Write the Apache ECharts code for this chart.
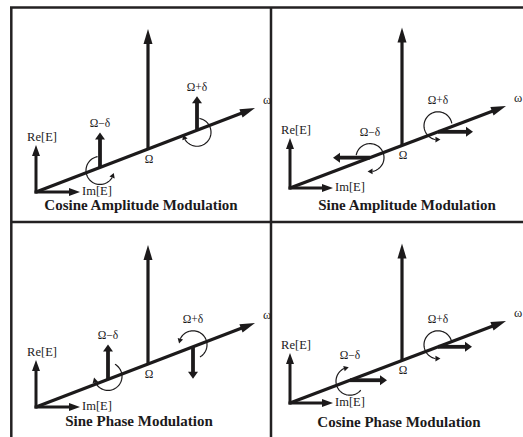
<!DOCTYPE html>
<html><head><meta charset="utf-8">
<script src="https://cdn.jsdelivr.net/npm/echarts@6/dist/echarts.min.js"></script>
<style>html,body{margin:0;padding:0;background:#fff}#c{width:523px;height:437px}</style>
</head><body><div id="c"></div><script>
// ---- data (in panel units) ----
const panelTitles = ['Cosine Amplitude Modulation','Sine Amplitude Modulation','Sine Phase Modulation','Cosine Phase Modulation'];
const freqLabels = ['Ω−δ','Ω','Ω+δ'];
const axisNames = ['Re[E]','Im[E]','ω'];
// position of each spectral line along the ω axis (distance from origin)
const lineOffsets = [[64,112,161],[80,112,148],[72,112,157],[60,112,148]];
// real (vertical) part of each phasor: lower sideband, carrier, upper sideband
const reParts = [[35,120,34],[0,118,0],[35,119,-32],[0,117,0]];
// imaginary (horizontal) part of each phasor
const imParts = [[0,0,0],[-37,0,35],[0,0,0],[37,0,34]];
// rotation sense of lower / upper sideband (+1 counter-clockwise, -1 clockwise)
const rotation = [[1,-1],[-1,1],[-1,1],[-1,1]];
const arcStart = [[100,80],[170,10],[60,-60],[-40,10]];
const arcSweep = [[250,250],[270,270],[235,235],[225,270]];
const arcLift = [[-3,-2],[0,6],[3,2],[-1,2]];
// axes geometry per panel
const originX = [25,19,25,19];
const originY = [30,34,30,34];
const omegaLen = [219,216,219,216];
const omegaRise = [84,82,84,82];
const reAxisLen = [47,50,47,50];
const imAxisLen = [44,43,44,43];

// ---- layout & style ----
const panelBoxes = [[11,9,260,213],[271,9,252,213],[11,222,260,215],[271,222,252,215]];
const titlePos = [[130,17],[136,17],[128,16],[128,15]];
const INK = '#1c1a1b';
const SERIF = '"Liberation Serif","Times New Roman",serif';
const ARC_R = 14;
const arrowStyles = [
  {lw:3.2, hl:15, hw:9, cap:'butt'},
  {lw:3, hl:11, hw:8, cap:'square'},
  {lw:3.2, hl:15, hw:9, cap:'butt'},
  {lw:3.8, hl:7, hw:10, cap:'butt'}
];

function arrowEl(p0, p1, st){
  const dx=p1[0]-p0[0], dy=p1[1]-p0[1];
  const L=Math.hypot(dx,dy); const ux=dx/L, uy=dy/L; const nx=-uy, ny=ux;
  const bx=p1[0]-ux*st.hl, by=p1[1]-uy*st.hl;
  return {type:'group', children:[
    {type:'line', shape:{x1:p0[0],y1:p0[1],x2:bx+ux,y2:by+uy}, style:{stroke:INK,lineWidth:st.lw,lineCap:st.cap}},
    {type:'polygon', shape:{points:[[p1[0],p1[1]],[bx+nx*st.hw/2,by+ny*st.hw/2],[bx-nx*st.hw/2,by-ny*st.hw/2]]}, style:{fill:INK}}
  ]};
}

function renderArrow(params, api){
  const p0 = api.coord([api.value(0), api.value(1)]);
  const p1 = api.coord([api.value(2), api.value(3)]);
  return arrowEl(p0, p1, arrowStyles[api.value(4)]);
}

function renderArc(params, api){
  const c = api.coord([api.value(0), api.value(1)]);
  const a0 = api.value(2)*Math.PI/180, sw = api.value(3)*Math.PI/180;
  const R = ARC_R, sg = Math.sign(sw);
  const trim = 5/R*sg;
  const pts=[]; const n=48;
  for(let i=0;i<=n;i++){const a=a0+(sw-trim)*i/n; pts.push([c[0]+R*Math.cos(a), c[1]-R*Math.sin(a)]);}
  const ae=a0+sw;
  const tip=[c[0]+R*Math.cos(ae), c[1]-R*Math.sin(ae)];
  const ab=ae-trim;
  const base=[c[0]+R*Math.cos(ab), c[1]-R*Math.sin(ab)];
  const dx=tip[0]-base[0], dy=tip[1]-base[1]; const L=Math.hypot(dx,dy);
  const nx=-dy/L, ny=dx/L, hw=2.8;
  return {type:'group', children:[
    {type:'polyline', shape:{points:pts}, style:{stroke:INK, lineWidth:1.2, fill:null}},
    {type:'polygon', shape:{points:[tip,[base[0]+nx*hw,base[1]+ny*hw],[base[0]-nx*hw,base[1]-ny*hw]]}, style:{fill:INK}}
  ]};
}

const grids=[], xAxes=[], yAxes=[], series=[];
panelBoxes.forEach((b,p)=>{
  grids.push({left:b[0], top:b[1], width:b[2], height:b[3]});
  xAxes.push({type:'value', gridIndex:p, min:0, max:b[2], show:false});
  yAxes.push({type:'value', gridIndex:p, min:0, max:b[3], show:false});
  const ox=originX[p], oy=originY[p], s=omegaRise[p]/omegaLen[p];
  const arrows=[
    [ox,oy,ox+omegaLen[p],oy+omegaRise[p],0],
    [ox,oy,ox,oy+reAxisLen[p],1],
    [ox,oy,ox+imAxisLen[p],oy,1]
  ];
  const arcs=[], labels=[], labelDefs=[];
  labels.push([ox+6, oy+reAxisLen[p]+8]); labelDefs.push({t:axisNames[0], a:'center', f:'12.5px '+SERIF});
  labels.push([ox+imAxisLen[p]+2, oy+1]); labelDefs.push({t:axisNames[1], a:'left', f:'12.5px '+SERIF});
  labels.push([ox+omegaLen[p]+12, oy+omegaRise[p]+8]); labelDefs.push({t:axisNames[2], a:'center', f:'12.5px '+SERIF});
  for(let k=0;k<3;k++){
    const off=lineOffsets[p][k];
    const bx=ox+off, by=oy+off*s;
    const re=reParts[p][k], im=imParts[p][k];
    arrows.push([bx,by,bx+im,by+re,k===1?2:3]);
    if(k===1){
      labels.push([bx+1, by-10]); labelDefs.push({t:freqLabels[k], a:'center', f:'11.5px '+SERIF});
    } else {
      const j=k===0?0:1;
      const cy=by+arcLift[p][j];
      arcs.push([bx,cy,arcStart[p][j],rotation[p][j]*arcSweep[p][j]]);
      const ly=Math.max(cy+ARC_R+12, re>0?by+re+9:0);
      labels.push([bx, ly]); labelDefs.push({t:freqLabels[k], a:'center', f:'11.5px '+SERIF});
    }
  }
  labels.push(titlePos[p]); labelDefs.push({t:panelTitles[p], a:'center', f:'bold 15px '+SERIF});
  series.push({type:'custom', coordinateSystem:'cartesian2d', xAxisIndex:p, yAxisIndex:p, clip:false,
    renderItem:renderArrow, encode:{x:[0,2], y:[1,3]}, data:arrows, silent:true});
  series.push({type:'custom', coordinateSystem:'cartesian2d', xAxisIndex:p, yAxisIndex:p, clip:false,
    renderItem:renderArc, encode:{x:0, y:1}, data:arcs, silent:true});
  series.push({type:'custom', coordinateSystem:'cartesian2d', xAxisIndex:p, yAxisIndex:p, clip:false,
    encode:{x:0, y:1}, data:labels, silent:true,
    renderItem:(params, api)=>{
      const pt=api.coord([api.value(0), api.value(1)]);
      const d=labelDefs[params.dataIndex];
      return {type:'text', x:pt[0], y:pt[1], style:{text:d.t, font:d.f, fill:INK, align:d.a, verticalAlign:'middle'}};
    }});
});

const frame = [[10,7.5,523,7.5],[11.3,7,11.3,437],[271,7,271,437],[11,222,523,222]];
const chart = echarts.init(document.getElementById('c'), null, {renderer:'svg'});
chart.setOption({
  animation:false,
  backgroundColor:'#ffffff',
  grid:grids, xAxis:xAxes, yAxis:yAxes, series:series,
  graphic: frame.map(f=>({type:'line', silent:true, shape:{x1:f[0],y1:f[1],x2:f[2],y2:f[3]}, style:{stroke:'#232122', lineWidth:2.5}}))
});
</script></body></html>
